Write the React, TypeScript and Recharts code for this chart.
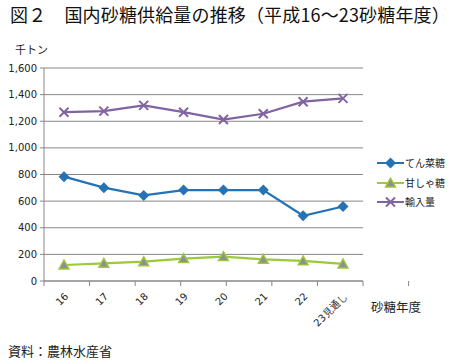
import React from 'react';
import { LineChart, Line, XAxis, YAxis, CartesianGrid, Legend } from 'recharts';

const years = ['16', '17', '18', '19', '20', '21', '22', '23見通し'];
const beet = [784, 701, 643, 683, 683, 683, 490, 560];
const cane = [120, 133, 145, 168, 183, 163, 151, 128];
const imports = [1268, 1276, 1319, 1268, 1213, 1256, 1347, 1372];
const yTicks = [0, 200, 400, 600, 800, 1000, 1200, 1400, 1600];
const boundaryTicks = [0, 1, 2, 3, 4, 5, 6, 7, 8];
const seriesNames = ['てん菜糖', '甘しゃ糖', '輸入量'];

const title = '図２　国内砂糖供給量の推移（平成16～23砂糖年度）';
const unitLabel = '千トン';
const xTitle = '砂糖年度';
const source = '資料：農林水産省';

const BLUE = '#2573b5';
const GREEN = '#9bc93a';
const PURPLE = '#8064a2';
const GRID = '#878787';
const CJK = '"Noto Sans CJK JP", sans-serif';
const NUM = '"DejaVu Sans", sans-serif';

const data = years.map((y, i) => ({ year: y, beet: beet[i], cane: cane[i], imports: imports[i] }));

const Diamond = (p: any) => {
  const { cx, cy } = p;
  if (cx == null || cy == null) return <g />;
  return <path d={`M${cx},${cy - 5.5}L${cx + 5.5},${cy}L${cx},${cy + 5.5}L${cx - 5.5},${cy}Z`} fill={BLUE} />;
};
const Triangle = (p: any) => {
  const { cx, cy } = p;
  if (cx == null || cy == null) return <g />;
  return (
    <path
      d={`M${cx},${cy - 5}L${cx + 5},${cy + 4}L${cx - 5},${cy + 4}Z`}
      fill="#8f8f8f"
      stroke={GREEN}
      strokeWidth={1.4}
    />
  );
};
const Cross = (p: any) => {
  const { cx, cy } = p;
  if (cx == null || cy == null) return <g />;
  const r = 4.5;
  return (
    <g stroke={PURPLE} strokeWidth={2}>
      <line x1={cx - r} y1={cy - r} x2={cx + r} y2={cy + r} />
      <line x1={cx - r} y1={cy + r} x2={cx + r} y2={cy - r} />
    </g>
  );
};

const XTick = (p: any) => {
  const { x, y, payload } = p;
  const ax = x + 5;
  const ay = y + 15;
  return (
    <text
      x={ax}
      y={ay}
      transform={`rotate(-45 ${ax} ${ay})`}
      textAnchor="end"
      fontSize={10}
      fill="#222"
      fontFamily={NUM}
    >
      {payload.value}
    </text>
  );
};

const EmptyTick = () => <g />;

const markers = [
  (cx: number, cy: number) => <Diamond cx={cx} cy={cy} />,
  (cx: number, cy: number) => <Triangle cx={cx} cy={cy} />,
  (cx: number, cy: number) => <Cross cx={cx} cy={cy} />,
];
const colors = [BLUE, GREEN, PURPLE];

const renderLegend = () => (
  <div style={{ fontFamily: CJK, fontSize: 10, color: '#222' }}>
    {seriesNames.map((n, i) => (
      <div key={n} style={{ display: 'flex', alignItems: 'center', height: 19.4 }}>
        <svg width={27} height={12} style={{ display: 'block' }}>
          <line x1={0} y1={6} x2={27} y2={6} stroke={colors[i]} strokeWidth={2} />
          {markers[i](13.5, 6)}
        </svg>
        <span style={{ marginLeft: 1, lineHeight: '12px' }}>{n}</span>
      </div>
    ))}
  </div>
);

export default function App() {
  return (
    <div style={{ position: 'absolute', left: 0, top: 0, width: 452, height: 364, background: '#fff' }}>
      <div
        style={{
          position: 'absolute',
          left: 10,
          top: 4,
          fontFamily: CJK,
          fontSize: 18,
          letterSpacing: 0.15,
          lineHeight: '20px',
          color: '#111',
          whiteSpace: 'nowrap',
        }}
      >
        {title}
      </div>
      <div
        style={{
          position: 'absolute',
          left: 15,
          top: 42,
          fontFamily: CJK,
          fontSize: 11,
          lineHeight: '14px',
          color: '#222',
        }}
      >
        {unitLabel}
      </div>
      <div
        style={{
          position: 'absolute',
          left: 371,
          top: 299,
          fontFamily: CJK,
          fontSize: 12.5,
          lineHeight: '16px',
          color: '#222',
        }}
      >
        {xTitle}
      </div>
      <div
        style={{
          position: 'absolute',
          left: 8,
          top: 343,
          fontFamily: CJK,
          fontSize: 13,
          lineHeight: '16px',
          color: '#222',
        }}
      >
        {source}
      </div>
      <div style={{ position: 'absolute', left: 0, top: 0 }}>
        <LineChart width={452} height={364} data={data} margin={{ top: 68, right: 89, bottom: 81, left: 8 }}>
          <CartesianGrid vertical={false} stroke={GRID} strokeWidth={1} />
          <XAxis
            xAxisId="bounds"
            type="number"
            domain={[0, 8]}
            allowDataOverflow
            ticks={boundaryTicks}
            tick={EmptyTick}
            tickSize={5}
            height={1}
            stroke={GRID}
            axisLine={{ stroke: GRID }}
            tickLine={{ stroke: GRID }}
          />
          <XAxis
            xAxisId="cat"
            dataKey="year"
            type="category"
            interval={0}
            padding={{ left: 20, right: 20 }}
            tick={XTick}
            tickLine={false}
            axisLine={false}
            tickSize={0}
            tickMargin={0}
            height={1}
          />
          <YAxis
            width={36}
            domain={[0, 1600]}
            ticks={yTicks}
            interval={0}
            tickFormatter={(v: number) => v.toLocaleString('en-US')}
            tick={{ fontSize: 10, fill: '#222', fontFamily: NUM }}
            tickSize={4}
            tickMargin={3}
            stroke={GRID}
            axisLine={{ stroke: GRID }}
            tickLine={{ stroke: GRID }}
          />
          <Legend
            layout="vertical"
            align="center"
            verticalAlign="middle"
            wrapperStyle={{ left: 377, top: 153.5, width: 75 }}
            content={renderLegend}
          />
          <Line
            xAxisId="cat"
            dataKey="beet"
            name={seriesNames[0]}
            stroke={BLUE}
            strokeWidth={2.2}
            dot={<Diamond />}
            activeDot={false}
            isAnimationActive={false}
          />
          <Line
            xAxisId="cat"
            dataKey="cane"
            name={seriesNames[1]}
            stroke={GREEN}
            strokeWidth={2.2}
            dot={<Triangle />}
            activeDot={false}
            isAnimationActive={false}
          />
          <Line
            xAxisId="cat"
            dataKey="imports"
            name={seriesNames[2]}
            stroke={PURPLE}
            strokeWidth={2.2}
            dot={<Cross />}
            activeDot={false}
            isAnimationActive={false}
          />
        </LineChart>
      </div>
    </div>
  );
}
